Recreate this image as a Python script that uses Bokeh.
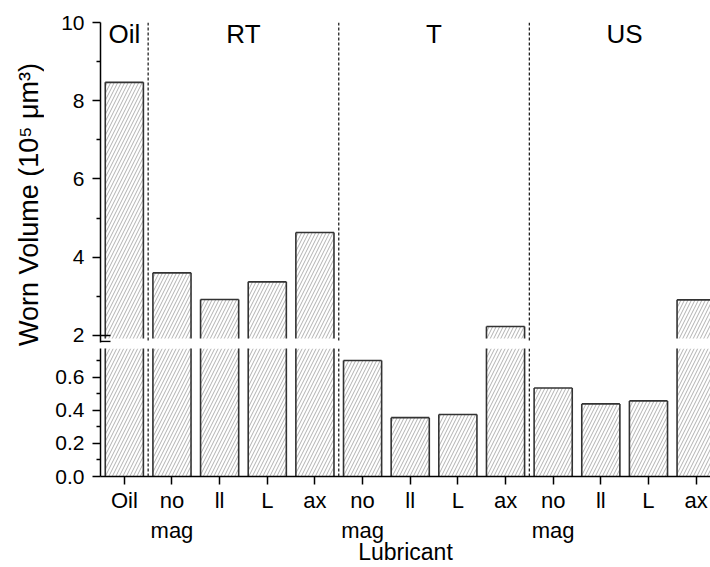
import math
from bokeh.plotting import figure
from bokeh.layouts import column, row
from bokeh.models import Range1d, FixedTicker, Span, Label, NumeralTickFormatter, LinearAxis
from bokeh.embed import file_html
from bokeh.resources import INLINE

# ---- data ----
tick_labels = ["Oil", "no\nmag", "ll", "L", "ax", "no\nmag", "ll", "L", "ax", "no\nmag", "ll", "L", "ax"]
groups = ["Oil", "RT", "RT", "RT", "RT", "T", "T", "T", "T", "US", "US", "US", "US"]
group_names = ["Oil", "RT", "T", "US"]
worn_volume = [8.47, 3.60, 2.92, 3.37, 4.63, 0.70, 0.355, 0.374, 2.23, 0.534, 0.438, 0.456, 2.91]
upper_ticks = [2, 4, 6, 8, 10]
upper_minor = [3, 5, 7, 9]
lower_ticks = [0.0, 0.2, 0.4, 0.6]
lower_minor = [0.1, 0.3, 0.5, 0.7]
break_marks = [2.0, 1.847]

xs = list(range(len(worn_volume)))
FONT = "Liberation Sans"
TW = 44            # width of the strip holding the y title
W = 710 - TW
LEFT = 100 - TW
PX_PER_CAT = 47.65
x_end = -0.5 + (W - LEFT) / PX_PER_CAT
HALF = 0.4

UP_VIS, UP_LO, UP_HI = 1.923, 1.82, 10.0
LO_LO, LO_HI = 0.0, 0.772

centers = {g: sum(i for i, gg in enumerate(groups) if gg == g) / groups.count(g) for g in group_names}
separators = [i + 0.5 for i in range(len(groups) - 1) if groups[i] != groups[i + 1]]

fill_kw = dict(width=2 * HALF, fill_color="white", hatch_pattern="/", hatch_color="#a8a8a8",
               hatch_scale=7, hatch_weight=0.9, line_color=None)
edge_kw = dict(line_color="#333333", line_width=1.6)


def draw_bars(p, lo, hi):
    bx = [x for x, v in zip(xs, worn_volume) if v > lo]
    bv = [v for v in worn_volume if v > lo]
    tops = [min(v, hi + 0.3 * (hi - lo)) for v in bv]
    p.vbar(x=bx, top=tops, bottom=lo, **fill_kw)
    p.segment(x0=[x - HALF for x in bx], y0=[lo] * len(bx), x1=[x - HALF for x in bx], y1=tops, **edge_kw)
    p.segment(x0=[x + HALF for x in bx], y0=[lo] * len(bx), x1=[x + HALF for x in bx], y1=tops, **edge_kw)
    tx = [x for x, v in zip(bx, bv) if v <= hi]
    tv = [v for v in bv if v <= hi]
    p.segment(x0=[x - HALF for x in tx], y0=tv, x1=[x + HALF for x in tx], y1=tv, **edge_kw)


def style(p, size):
    p.outline_line_color = None
    p.xgrid.visible = False
    p.ygrid.visible = False
    p.background_fill_color = "white"
    p.border_fill_color = "white"
    ax = p.yaxis[0]
    ax.axis_line_color = "black"
    ax.axis_line_width = 1.5
    ax.major_tick_out = 8
    ax.major_tick_in = 0
    ax.minor_tick_out = 4
    ax.minor_tick_in = 0
    ax.major_tick_line_width = 1.5
    ax.minor_tick_line_width = 1.5
    ax.major_label_text_font = FONT
    ax.major_label_text_font_size = size
    ax.major_label_text_color = "black"
    ax.major_label_standoff = 8


def separators_on(p):
    for s in separators:
        p.add_layout(Span(location=s, dimension="height", line_color="#222222",
                          line_width=1.3, line_dash="3 2"))


# ---- strip with the y-axis title ----
tf = figure(width=TW, height=567, x_range=Range1d(0, 1), y_range=Range1d(0, 1),
            output_backend="svg", toolbar_location=None, title=None,
            x_axis_location=None, y_axis_location=None,
            min_border_left=0, min_border_right=0, min_border_top=0, min_border_bottom=0)
tf.outline_line_color = None
tf.xgrid.visible = False
tf.ygrid.visible = False
tf.add_layout(Label(x=28 / TW, y=1 - 204 / 567, text="Worn Volume (10\u2075 \u03bcm\u00b3)",
                    angle=math.pi / 2, text_align="center", text_baseline="middle",
                    text_font=FONT, text_font_size="27px", text_color="black"))

# ---- upper panel (2 .. 10) ----
up = figure(width=W, height=348, x_range=Range1d(-0.5, x_end), y_range=Range1d(UP_LO, UP_HI),
            output_backend="svg", toolbar_location=None, title=None,
            x_axis_location=None, min_border_left=LEFT, min_border_right=0,
            min_border_top=22, min_border_bottom=6)
separators_on(up)
draw_bars(up, UP_VIS, UP_HI)
up.yaxis.ticker = FixedTicker(ticks=upper_ticks, minor_ticks=upper_minor)
style(up, "21px")
for g in group_names:
    up.add_layout(Label(x=centers[g], y=9.71, text=g, text_align="center", text_baseline="middle",
                        text_font=FONT, text_font_size="26px", text_color="black"))
mark_axis = LinearAxis(fixed_location=-0.5, ticker=FixedTicker(ticks=break_marks, minor_ticks=[]),
                       axis_line_color=None, major_tick_in=10, major_tick_out=10,
                       major_tick_line_width=1.5, major_tick_line_color="black",
                       minor_tick_in=0, minor_tick_out=0, major_label_text_font_size="0px",
                       major_label_text_color=None)
up.add_layout(mark_axis, "left")

# ---- lower panel (0 .. 0.8) ----
lo = figure(width=W, height=219, x_range=up.x_range, y_range=Range1d(LO_LO, LO_HI),
            output_backend="svg", toolbar_location=None, title=None,
            min_border_left=LEFT, min_border_right=0, min_border_top=0, min_border_bottom=90)
separators_on(lo)
draw_bars(lo, LO_LO, LO_HI)
lo.yaxis.ticker = FixedTicker(ticks=lower_ticks, minor_ticks=lower_minor)
lo.yaxis.formatter = NumeralTickFormatter(format="0.0")
style(lo, "21px")
xa = lo.xaxis[0]
xa.ticker = FixedTicker(ticks=xs, minor_ticks=[])
xa.major_label_overrides = {i: t for i, t in enumerate(tick_labels)}
xa.axis_line_color = "black"
xa.axis_line_width = 1.5
xa.major_tick_out = 8
xa.major_tick_in = 0
xa.major_tick_line_width = 1.5
xa.minor_tick_out = 0
xa.minor_tick_in = 0
xa.major_label_text_font = FONT
xa.major_label_text_font_size = "22px"
xa.major_label_text_color = "black"
xa.major_label_standoff = 3
xa.axis_label = "Lubricant"
xa.axis_label_text_font = FONT
xa.axis_label_text_font_size = "23px"
xa.axis_label_text_font_style = "normal"
xa.axis_label_text_color = "black"
xa.axis_label_standoff = -7

layout = row(tf, column(up, lo, spacing=0), spacing=0)
open("out.html", "w").write(file_html(layout, INLINE))
